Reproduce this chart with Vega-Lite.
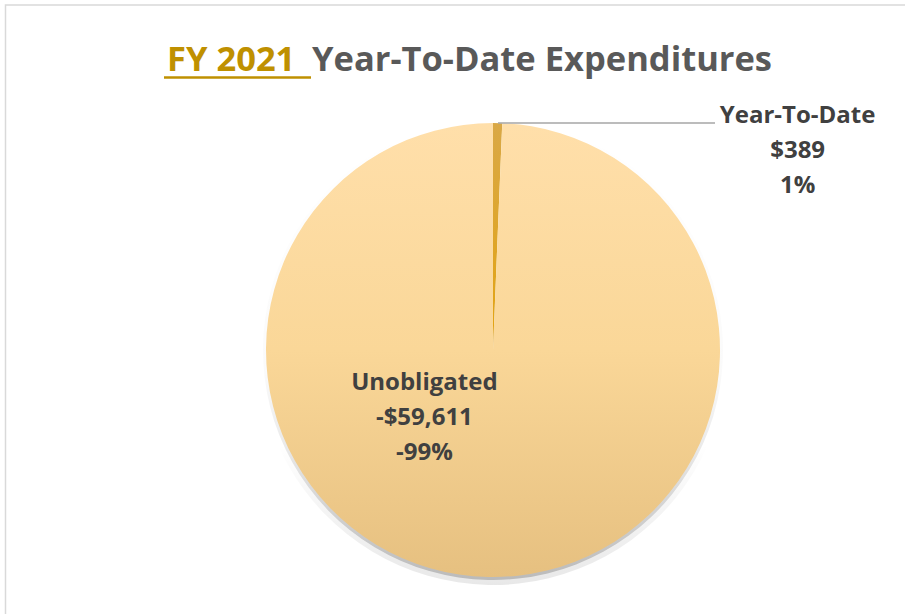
{
  "$schema": "https://vega.github.io/schema/vega-lite/v6.json",
  "width": 824,
  "height": 528,
  "autosize": "none",
  "padding": {"left": 81, "top": 86, "right": 0, "bottom": 0},
  "background": "white",
  "config": {"view": {"stroke": null}},
  "data": {
    "values": [
      {"category": "Year-To-Date", "value": 389, "label": "Year-To-Date\n$389\n1%"},
      {"category": "Unobligated", "value": 59611, "label": "Unobligated\n-$59,611\n-99%"}
    ]
  },
  "layer": [
    {
      "mark": {"type": "arc", "outerRadius": 235},
      "encoding": {
        "theta": {"field": "value", "type": "quantitative", "stack": true},
        "order": {"field": "category", "sort": "descending"},
        "detail": {"field": "category"},
        "color": {"value": {"gradient": "linear", "x1": 0, "y1": 0, "x2": 0, "y2": 1, "stops": [{"offset": 0, "color": "rgba(0,0,0,0)"}, {"offset": 0.7, "color": "rgba(0,0,0,0)"}, {"offset": 1, "color": "rgba(0,0,0,0.09)"}]}}
      }
    },
    {
      "mark": {"type": "arc", "outerRadius": 230},
      "encoding": {
        "theta": {"field": "value", "type": "quantitative", "stack": true},
        "order": {"field": "category", "sort": "descending"},
        "detail": {"field": "category"},
        "color": {"value": {"gradient": "linear", "x1": 0, "y1": 0, "x2": 0, "y2": 1, "stops": [{"offset": 0, "color": "rgba(0,0,0,0)"}, {"offset": 0.55, "color": "rgba(0,0,0,0.02)"}, {"offset": 1, "color": "rgba(0,0,0,0.2)"}]}}
      }
    },
    {
      "mark": {"type": "arc", "outerRadius": 227},
      "encoding": {
        "theta": {"field": "value", "type": "quantitative", "stack": true},
        "order": {"field": "category", "sort": "descending"},
        "detail": {"field": "category"},
        "color": {
          "condition": {"test": "datum.category === 'Year-To-Date'", "value": {"gradient": "linear", "x1": 0, "y1": 0, "x2": 0, "y2": 1, "stops": [{"offset": 0, "color": "#D9A846"}, {"offset": 1, "color": "#E3A30F"}]}},
          "value": {"gradient": "linear", "x1": 0, "y1": 0, "x2": 0, "y2": 1, "stops": [{"offset": 0, "color": "#FFDFAA"}, {"offset": 0.5, "color": "#FAD798"}, {"offset": 1, "color": "#E6C080"}]}
        }
      }
    },
    {
      "data": {"values": [{"part": "leader"}]},
      "mark": {"type": "rule", "color": "#A6A6A6", "strokeWidth": 1.5},
      "encoding": {"x": {"value": 417}, "x2": {"value": 634}, "y": {"value": 37}}
    },
    {
      "mark": {"type": "text", "align": "center", "baseline": "alphabetic", "dx": 300, "dy": 0, "font": "Open Sans", "fontWeight": "bold", "fontSize": 24, "lineHeight": 35, "lineBreak": "\n", "color": "#404040"},
      "encoding": {
        "theta": {"field": "value", "type": "quantitative", "stack": true},
        "order": {"field": "category", "sort": "descending"},
        "radius": {"value": 227},
        "text": {"condition": {"test": "datum.category === 'Year-To-Date'", "field": "label"}, "value": ""}
      }
    },
    {
      "mark": {"type": "text", "align": "center", "baseline": "alphabetic", "dx": -64, "dy": -187, "font": "Open Sans", "fontWeight": "bold", "fontSize": 24, "lineHeight": 35, "lineBreak": "\n", "color": "#404040"},
      "encoding": {
        "theta": {"field": "value", "type": "quantitative", "stack": true},
        "order": {"field": "category", "sort": "descending"},
        "radius": {"value": 227},
        "text": {"condition": {"test": "datum.category === 'Unobligated'", "field": "label"}, "value": ""}
      }
    },
    {
      "data": {"values": [{"title": "FY 2021"}]},
      "mark": {"type": "text", "align": "left", "baseline": "alphabetic", "font": "Open Sans", "fontWeight": "bold", "fontSize": 34.5, "color": "#BF9000"},
      "encoding": {"x": {"value": 86}, "y": {"value": -15}, "text": {"field": "title"}}
    },
    {
      "data": {"values": [{"title": "Year-To-Date Expenditures"}]},
      "mark": {"type": "text", "align": "left", "baseline": "alphabetic", "font": "Open Sans", "fontWeight": "bold", "fontSize": 34.5, "color": "#595959"},
      "encoding": {"x": {"value": 231}, "y": {"value": -15}, "text": {"field": "title"}}
    },
    {
      "data": {"values": [{"part": "underline"}]},
      "mark": {"type": "rule", "color": "#BF9000", "strokeWidth": 2.5},
      "encoding": {"x": {"value": 83}, "x2": {"value": 230}, "y": {"value": -8.5}}
    },
    {
      "data": {"values": [{"part": "frame"}]},
      "mark": {"type": "rect", "fill": null, "stroke": "#D9D9D9", "strokeWidth": 1.5},
      "encoding": {"x": {"value": -75.5}, "x2": {"value": 840}, "y": {"value": -81}, "y2": {"value": 560}}
    }
  ]
}
